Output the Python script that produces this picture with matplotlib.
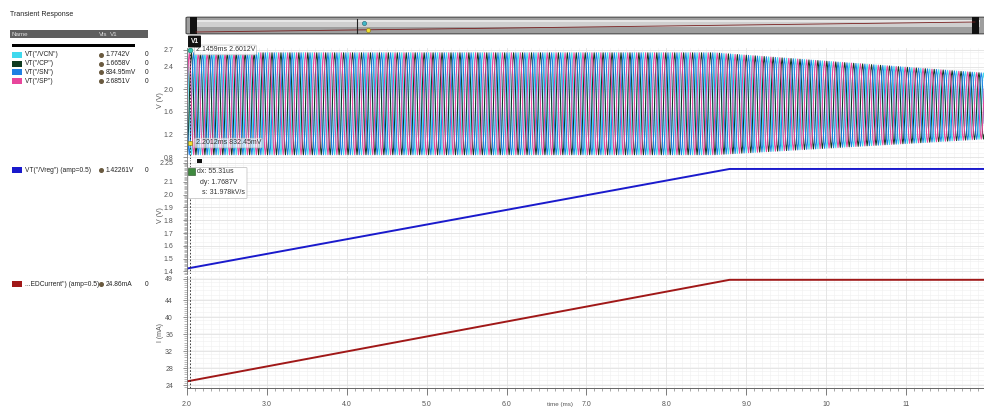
import numpy as np
import matplotlib.pyplot as plt
from matplotlib.patches import Rectangle, FancyBboxPatch
from matplotlib.lines import Line2D
from matplotlib.ticker import FixedLocator, MultipleLocator

plt.rcParams['font.family'] = ['Liberation Sans', 'DejaVu Sans']

W, H = 984, 409

# ---- data (time in ms) ----
t_start, t_end = 2.0, 11.975
period = 0.112
# one period of the phase waveforms, normalised 0..1
cycle_shape = [0.5, 0.76, 0.93, 1.0, 0.93, 0.76, 0.5, 0.24, 0.07, 0.0, 0.07, 0.24]
env_t = [2.0, 8.6, 11.975]
env_hi = [2.65, 2.65, 2.29]
env_lo = [0.84, 0.84, 1.12]

phase_names = ['VT("/VCN")', 'VT("/CP")', 'VT("/SN")', 'VT("/SP")']
phase_colors = ['#3fd9ee', '#0e3a20', '#1f80e3', '#e8469c']
phase_shift = [9, 3, 6, 0]
phase_vals = ['1.7742V', '1.6658V', '834.95mV', '2.6851V']

vreg_t = [2.0, 8.79, 11.975]
vreg_v = [1.4226, 2.2, 2.2]
idc_t = [2.0, 8.79, 11.975]
idc_v = [24.86, 48.8, 48.8]

y1_ticks = [0.8, 1.2, 1.6, 2.0, 2.4, 2.7]
y1_labels = ['0.8', '1.2', '1.6', '2.0', '2.4', '2.7']
y2_ticks = [1.4, 1.5, 1.6, 1.7, 1.8, 1.9, 2.0, 2.1, 2.25]
y2_labels = ['1.4', '1.5', '1.6', '1.7', '1.8', '1.9', '2.0', '2.1', '2.25']
y3_ticks = [24, 28, 32, 36, 40, 44, 49]
y3_labels = ['24', '28', '32', '36', '40', '44', '49']
x_ticks = [2, 3, 4, 5, 6, 7, 8, 9, 10, 11, 12]
x_ticklabels = ['2.0', '3.0', '4.0', '5.0', '6.0', '7.0', '8.0', '9.0', '10', '11', '12']

cursor_t = 2.04
pointA = (2.04, 2.70, '2.1459ms 2.6012V')
pointB = (2.04, 1.05, '2.2012ms 832.45mV')
delta_lines = ['dx: 55.31us', 'dy: 1.7687V', 's: 31.978kV/s']


def fx(x):
    return x / W


def fy(y):
    return 1 - y / H


fig = plt.figure(figsize=(W / 100, H / 100), dpi=100)
fig.patch.set_facecolor('white')


def make_axes(ytop, ybot, ylim, yticks, ylabels, yminor, gminor):
    ax = fig.add_axes([fx(187), fy(ybot), (984 - 187) / W, (ybot - ytop) / H])
    ax.set_xlim(t_start, t_end)
    ax.set_ylim(*ylim)
    ax.yaxis.set_major_locator(FixedLocator(yticks))
    ax.set_yticklabels(ylabels)
    ax.yaxis.set_minor_locator(MultipleLocator(yminor))
    ax.xaxis.set_major_locator(FixedLocator(x_ticks))
    ax.xaxis.set_minor_locator(MultipleLocator(0.1))
    for s in ['top', 'right', 'bottom']:
        ax.spines[s].set_visible(False)
    ax.spines['left'].set_color('#777777')
    ax.spines['left'].set_linewidth(0.6)
    ax.tick_params(axis='y', which='major', length=3, width=0.5, color='#666666',
                   labelsize=5, labelcolor='#555555', pad=7)
    ax.tick_params(axis='y', which='minor', length=2, width=0.4, color='#888888')
    ax.tick_params(axis='x', which='both', bottom=False, labelbottom=False)
    ax.grid(which='major', color='#e2e2e2', lw=0.6)
    ax.grid(which='minor', axis='x', color='#efefef', lw=0.4)
    for g in np.arange(ylim[0], ylim[1], gminor):
        ax.axhline(g, color='#efefef', lw=0.4, zorder=0)
    ax.set_axisbelow(True)
    return ax


ax1 = make_axes(48, 159, (0.765, 2.735), y1_ticks, y1_labels, 0.05, 0.1)
ax2 = make_axes(160, 274, (1.38, 2.27), y2_ticks, y2_labels, 0.01, 0.05)
ax3 = make_axes(276, 388, (23.3, 49.7), y3_ticks, y3_labels, 0.5, 1.0)

# phase waveforms
n_per = len(cycle_shape)
n_cyc = int(np.ceil((t_end - t_start) / period)) + 1
t = t_start + np.arange(n_cyc * n_per) * period / n_per
hi = np.interp(t, env_t, env_hi)
lo = np.interp(t, env_t, env_lo)
for name, col, sh in zip(phase_names, phase_colors, phase_shift):
    shape = np.tile(np.roll(cycle_shape, sh), n_cyc)
    ax1.plot(t, lo + (hi - lo) * shape, color=col, lw=0.75)

ax2.plot(vreg_t, vreg_v, color='#1a1acc', lw=1.4)
ax3.plot(idc_t, idc_v, color='#a01818', lw=1.4)

# bottom time axis
ax3.spines['bottom'].set_visible(True)
ax3.spines['bottom'].set_color('#666666')
ax3.spines['bottom'].set_linewidth(0.7)
ax3.tick_params(axis='x', which='both', bottom=True, color='#666666')
ax3.tick_params(axis='x', which='major', length=5, width=0.6, labelbottom=True,
                labelsize=5, labelcolor='#555555', pad=4)
ax3.tick_params(axis='x', which='minor', length=2.5, width=0.4)
ax3.set_xticklabels(x_ticklabels)
fig.text(fx(560), fy(402), 'time (ms)', fontsize=4.5, color='#555555', ha='center', va='top')

# y labels
fig.text(fx(160), fy(100), 'V (V)', rotation=90, fontsize=5, color='#555555', ha='center', va='center')
fig.text(fx(160), fy(215), 'V (V)', rotation=90, fontsize=5, color='#555555', ha='center', va='center')
fig.text(fx(160), fy(333), 'I (mA)', rotation=90, fontsize=5, color='#555555', ha='center', va='center')

# cursor line across all panels
for ax in (ax1, ax2, ax3):
    ax.axvline(cursor_t, color='#222222', lw=0.6, ls=(0, (2, 2)), zorder=5)

# point markers with labels
ax1.plot(pointA[0], pointA[1], 'o', ms=3.5, mfc='#33c4b0', mec='#1a7a6a', mew=0.4, zorder=6)
ax1.annotate(pointA[2], (pointA[0], pointA[1]), xytext=(4, 0), textcoords='offset points',
             fontsize=5, color='#333333', va='center',
             bbox=dict(boxstyle='round,pad=0.2', fc='white', ec='#bbbbbb', lw=0.5, alpha=0.9), zorder=7)
ax1.plot(pointB[0], pointB[1], 's', ms=3.5, mfc='#f2e030', mec='#8a7a10', mew=0.4, zorder=6)
ax1.annotate(pointB[2], (pointB[0], pointB[1]), xytext=(4, 0), textcoords='offset points',
             fontsize=5, color='#333333', va='center',
             bbox=dict(boxstyle='round,pad=0.2', fc='white', ec='#bbbbbb', lw=0.5, alpha=0.6), zorder=7)

# delta box
fig.patches.append(FancyBboxPatch((fx(189), fy(198)), fx(57), 30 / H, boxstyle='round,pad=0.001',
                                  transform=fig.transFigure, fc='white', ec='#bbbbbb', lw=0.5, zorder=8))
fig.patches.append(Rectangle((fx(188), fy(175)), fx(7), 7 / H, transform=fig.transFigure,
                             fc='#3f8a3f', ec='#1d4d1d', lw=0.4, zorder=9))
fig.patches.append(Rectangle((fx(197), fy(163)), fx(5), 4 / H, transform=fig.transFigure,
                             fc='#111111', ec='none', zorder=9))
for i, (s, xx) in enumerate(zip(delta_lines, [197, 200, 202])):
    fig.text(fx(xx), fy(172 + 10.5 * i), s, fontsize=5, color='#333333', va='center', zorder=10)

# V1 cursor tag
fig.patches.append(FancyBboxPatch((fx(189), fy(47)), fx(11), 11 / H, boxstyle='round,pad=0.001',
                                  transform=fig.transFigure, fc='#111111', ec='none', zorder=9))
fig.text(fx(194.5), fy(41.5), 'V1', fontsize=4.8, color='white', ha='center', va='center',
         fontweight='bold', zorder=10)

# overview scroll bar
fig.patches.append(FancyBboxPatch((fx(188), fy(33)), fx(795), 15 / H, boxstyle='round,pad=0.002',
                                  transform=fig.transFigure, fc='#9e9e9e', ec='#4a4a4a', lw=0.8))
fig.patches.append(Rectangle((fx(190), fy(27)), fx(790), 6 / H, transform=fig.transFigure,
                             fc='#cfcfcf', ec='none'))
fig.patches.append(Rectangle((fx(190), fy(22)), fx(790), 2 / H, transform=fig.transFigure,
                             fc='#e6e6e6', ec='none'))
fig.lines.append(Line2D([fx(196), fx(975)], [fy(32), fy(22)], transform=fig.transFigure,
                        color='#7a2020', lw=0.6))
fig.patches.append(Rectangle((fx(190), fy(34)), fx(7), 17 / H, transform=fig.transFigure,
                             fc='#111111', ec='none'))
fig.patches.append(Rectangle((fx(972), fy(34)), fx(7), 17 / H, transform=fig.transFigure,
                             fc='#111111', ec='none'))
fig.lines.append(Line2D([fx(357), fx(357)], [fy(19), fy(33)], transform=fig.transFigure,
                        color='#222222', lw=0.8))
fig.lines.append(Line2D([fx(364)], [fy(23)], transform=fig.transFigure, marker='o', ms=3,
                        mfc='#40b8c8', mec='#206070', mew=0.4))
fig.lines.append(Line2D([fx(368)], [fy(30)], transform=fig.transFigure, marker='o', ms=3,
                        mfc='#f2e030', mec='#8a7a10', mew=0.4))

# ---- left legend pane ----
fig.text(fx(10), fy(14), 'Transient Response', fontsize=5, color='#222222', va='center')
fig.patches.append(Rectangle((fx(10), fy(38)), fx(138), 8 / H, transform=fig.transFigure,
                             fc='#5f5f5f', ec='none'))
fig.text(fx(12), fy(34), 'Name', fontsize=4.5, color='#dddddd', va='center')
fig.text(fx(99), fy(34), 'Vis', fontsize=4.5, color='#dddddd', va='center')
fig.text(fx(110), fy(34), 'V1', fontsize=4.5, color='#dddddd', va='center')
fig.patches.append(Rectangle((fx(12), fy(46.5)), fx(123), 3 / H, transform=fig.transFigure,
                             fc='#000000', ec='none'))


def legend_row(y, color, name, val):
    fig.patches.append(Rectangle((fx(12), fy(y + 3)), fx(10), 6 / H, transform=fig.transFigure,
                                 fc=color, ec='none'))
    fig.text(fx(25), fy(y), name, fontsize=4.8, color='#222222', va='center')
    fig.lines.append(Line2D([fx(101)], [fy(y)], transform=fig.transFigure, marker='o', ms=2.6,
                            mfc='#6a5a40', mec='#6a5a40'))
    fig.text(fx(106), fy(y), val, fontsize=4.8, color='#222222', va='center')
    fig.text(fx(145), fy(y), '0', fontsize=4.8, color='#222222', va='center')


for i, (name, col, val) in enumerate(zip(phase_names, phase_colors, phase_vals)):
    legend_row(55 + 8.7 * i, col, name, val)
legend_row(170, '#1a1acc', 'VT("/Vreg") (amp=0.5)', '1.42261V')
legend_row(284, '#a01818', '...EDCurrent") (amp=0.5)', '24.86mA')

fig.savefig('out.png', dpi=100)
